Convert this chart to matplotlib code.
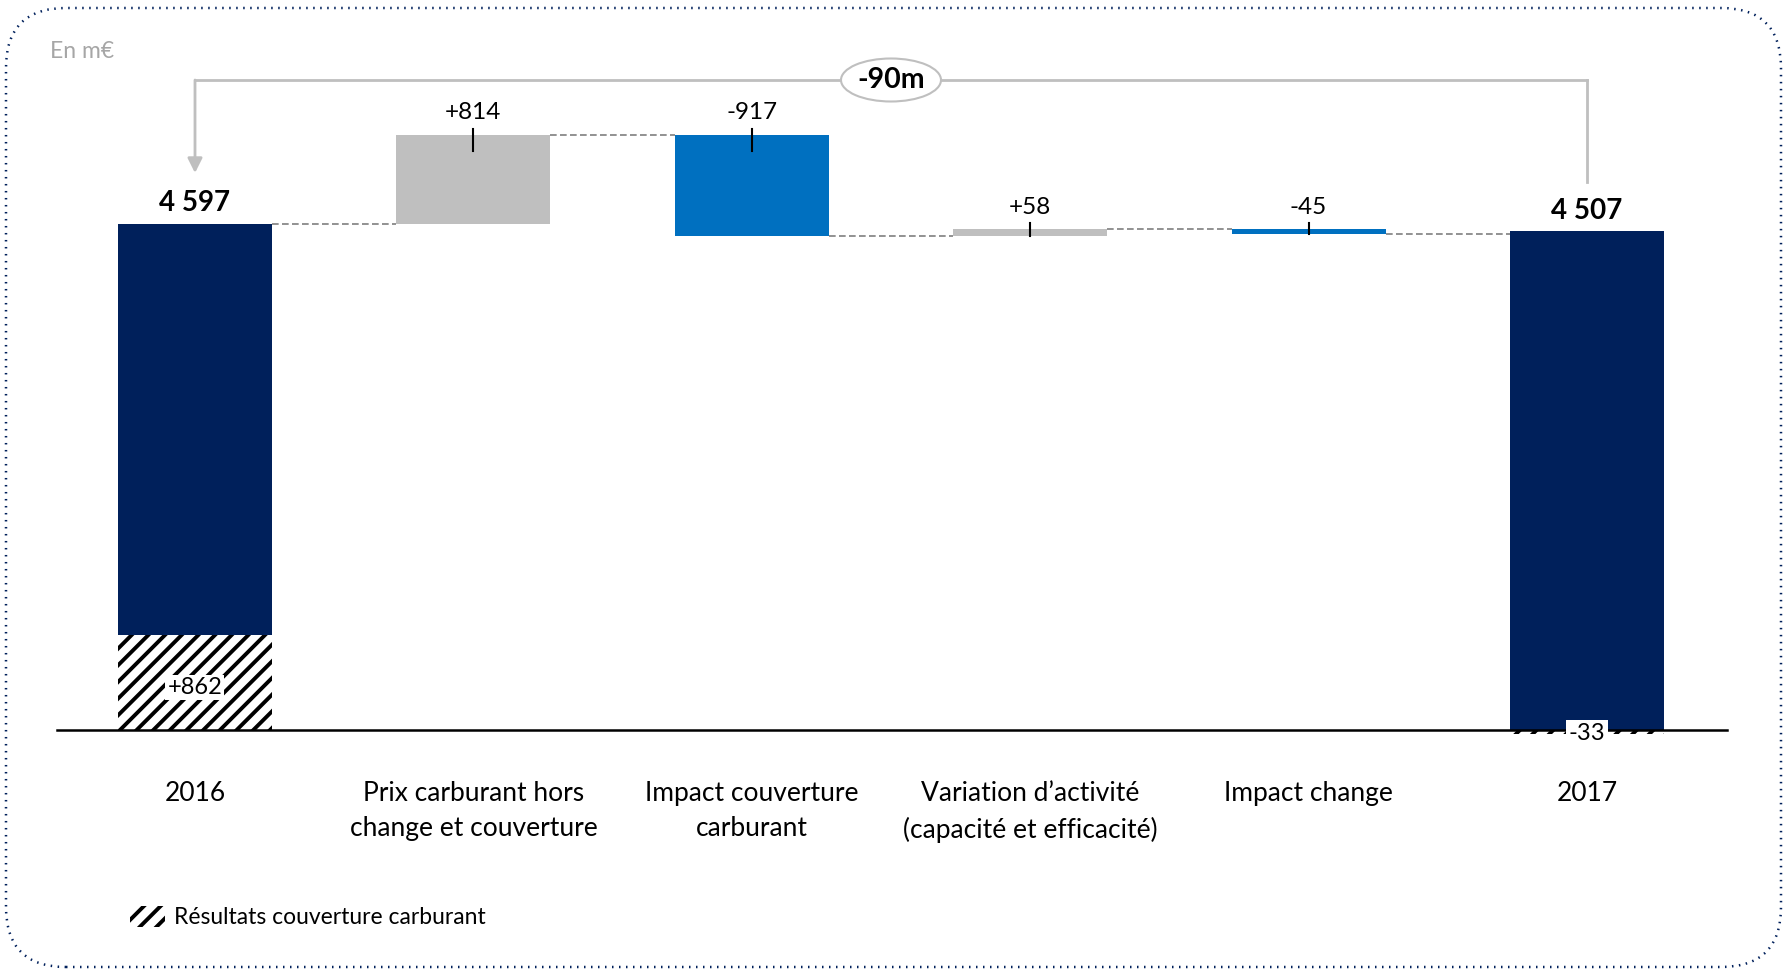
import matplotlib
matplotlib.use("Agg")
import matplotlib.pyplot as plt
from matplotlib.patches import FancyBboxPatch, Ellipse, Rectangle

# data
categories = ["2016", "Prix carburant hors\nchange et couverture", "Impact couverture\ncarburant",
              "Variation d\u2019activit\u00e9\n(capacit\u00e9 et efficacit\u00e9)", "Impact change", "2017"]
start_total = 4597
start_hedge = 862
deltas = [814, -917, 58, -45]
delta_labels = ["+814", "-917", "+58", "-45"]
end_total = 4507
end_hedge = -33
total_labels = ["4 597", "4 507"]
gap_label = "-90m"

NAVY = "#00205B"
BLUE = "#0070C0"
GREY = "#BFBFBF"

plt.rcParams['font.family'] = ['Lato', 'DejaVu Sans']
plt.rcParams['hatch.linewidth'] = 2.8
plt.rcParams['hatch.color'] = 'black'

fig = plt.figure(figsize=(17.87, 9.73), dpi=100)
ax = fig.add_axes([0, 0, 1, 1])
# x in bar index units, y in value units (0.11 px per unit)
px_per_x = 278.4
px_per_y = 0.11
ax.set_xlim(-195 / px_per_x, (1787 - 195) / px_per_x)
ax.set_ylim(-(973 - 730) / px_per_y, 730 / px_per_y)
ax.axis('off')

w = 0.553
dy = lambda px: px / px_per_y  # pixels -> value units

# 2016 bar
ax.bar(0, start_total - start_hedge, bottom=start_hedge, width=w, color=NAVY, zorder=2)
ax.bar(0, start_hedge, width=w, color='white', hatch='//', edgecolor='black', linewidth=0, zorder=2)
ax.text(0, start_hedge / 2 - dy(5), "+862", ha='center', va='center', fontsize=17,
        bbox=dict(facecolor='white', edgecolor='none', pad=1.5), zorder=4)

# deltas
level = start_total
prev_right = 0 + w / 2
for i, (d, lab) in enumerate(zip(deltas, delta_labels)):
    x = i + 1
    col = GREY if d > 0 else BLUE
    ax.bar(x, d, bottom=level, width=w, color=col, zorder=2)
    ax.plot([prev_right, x - w / 2], [level, level], color='#7F7F7F', ls=(0, (4, 2)), lw=1.2, zorder=1)
    top = max(level, level + d)
    ax.plot([x, x], [top + dy(6), top - min(dy(16), abs(d))], color='black', lw=1.5, zorder=3)
    ax.text(x, top + dy(22), lab, ha='center', va='center', fontsize=17.5)
    level += d
    prev_right = x + w / 2

# 2017 bar
x = 5
ax.plot([prev_right, x - w / 2], [level, level], color='#7F7F7F', ls=(0, (4, 2)), lw=1.2, zorder=1)
ax.bar(x, end_total - end_hedge, width=w, color=NAVY, zorder=2)
ax.bar(x, end_hedge, width=w, color='white', hatch='//', edgecolor='black', linewidth=0, zorder=2)
ax.text(x, dy(-3), "-33", ha='center', va='center', fontsize=17,
        bbox=dict(facecolor='white', edgecolor='none', pad=2), zorder=4)

# totals
ax.text(0, start_total + dy(21), total_labels[0], ha='center', va='center', fontsize=20, fontweight='bold')
ax.text(5, end_total - end_hedge + dy(20), total_labels[1], ha='center', va='center', fontsize=20, fontweight='bold')

# baseline
ax.plot([-138 / px_per_x, 1532 / px_per_x], [0, 0], color='black', lw=1.8, zorder=3)

# category labels
for i, c in enumerate(categories):
    ax.text(i, dy(-51), c, ha='center', va='top', fontsize=19, linespacing=1.5)

# bracket
ybr = dy(730 - 80)
ax.plot([0, 5], [ybr, ybr], color='#BFBFBF', lw=2, zorder=1)
ax.plot([5, 5], [ybr, dy(730 - 182)], color='#BFBFBF', lw=2, zorder=1)
ax.annotate("", xy=(0, dy(730 - 173)), xytext=(0, ybr),
            arrowprops=dict(arrowstyle='-|>', color='#BFBFBF', lw=2, mutation_scale=22, shrinkA=0, shrinkB=0))
xe = (891 - 195) / px_per_x
ax.add_patch(Ellipse((xe, ybr), 100 / px_per_x, dy(43), facecolor='white', edgecolor='#BFBFBF', lw=1.5, zorder=3))
ax.text(xe, ybr, gap_label, ha='center', va='center', fontsize=20.5, fontweight='bold', zorder=4)

# unit
fig.text(50 / 1787, 1 - 51 / 973, "En m\u20ac", ha='left', va='center', fontsize=16.5, color='#A6A6A6')

# legend
fig.patches.append(Rectangle((1.30, 9.73 - 9.27), 0.35, 0.21, transform=fig.dpi_scale_trans,
                             facecolor='white', hatch='//', edgecolor='black', linewidth=0))
fig.text(174 / 1787, 1 - 918 / 973, "R\u00e9sultats couverture carburant", ha='left', va='center', fontsize=16.5)

# frame
fig.patches.append(FancyBboxPatch((0.12, 0.12), 17.87 - 0.24, 9.73 - 0.26, transform=fig.dpi_scale_trans,
                                  boxstyle="round,pad=0.06,rounding_size=0.6", facecolor='none',
                                  edgecolor=NAVY, lw=1.8, ls=(0, (0.6, 2.2))))

fig.savefig("out.png", dpi=100)
